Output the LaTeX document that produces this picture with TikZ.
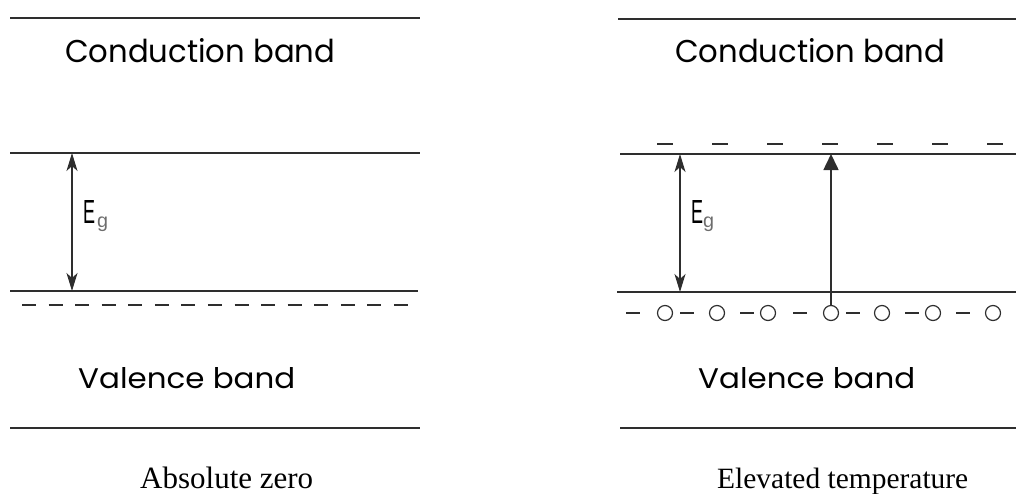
\documentclass[tikz,border=0pt]{standalone}
\usepackage{fontspec}
\usepackage{graphicx}
\setmainfont{Liberation Serif}
\newfontfamily\bandfont{Poppins}
\newfontfamily\egfont{Liberation Sans}
\usetikzlibrary{arrows.meta}
\definecolor{ink}{HTML}{2E2E2E}
\begin{document}
\begin{tikzpicture}[x=1pt,y=-1pt,
  level/.style={draw=ink,line width=1.6pt},
  dashlevel/.style={draw=ink,line width=1.6pt,dash pattern=on 14pt off 12.57pt},
  gap/.style={draw=ink,line width=1.6pt,{Stealth[length=18pt,width=11pt,inset=5pt]}-{Stealth[length=18pt,width=11pt,inset=5pt]}},
  jump/.style={draw=ink,line width=1.6pt,-{Triangle[length=16pt,width=15pt]}},
  hole/.style={circle,draw=ink,line width=1.2pt,minimum size=15pt,inner sep=0pt},
  band/.style={anchor=base west,inner sep=0pt,text=black},
  caption/.style={anchor=base west,inner sep=0pt,text=black},
  short/.style={draw=ink,line width=1.6pt}]
\useasboundingbox (0,0) rectangle (1016,493);

% ---------- left panel ----------
\draw[level] (10,18) -- (420,18);
\draw[level] (10,153) -- (420,153);
\draw[level] (10,291) -- (418,291);
\draw[dashlevel] (22,305) -- (408,305);
\draw[level] (10,428) -- (420,428);
\node[band] (cbL) at (65,62) {\resizebox{270pt}{24pt}{\bandfont Conduction band}};
\node[band] (vbL) at (78,388) {\resizebox{217pt}{21pt}{\bandfont Valence band}};
\coordinate (gtL) at (72,153);
\coordinate (gbL) at (72,291);
\draw[gap] (gbL) -- (gtL);
\node[anchor=base west,inner sep=0pt] (eL) at (83,223) {\resizebox{12pt}{23pt}{\egfont E}};
\node[anchor=north west,inner sep=0pt] (gL) at (97,217) {\resizebox{11pt}{!}{\egfont\color{ink!70}g}};
\node[caption] (azL) at (140,488) {\resizebox{173pt}{!}{Absolute zero}};

% ---------- right panel ----------
\draw[level] (618,19) -- (1016,19);
\draw[level] (620,154) -- (1016,154);
\draw[level] (617,292) -- (1016,292);
\draw[level] (620,428) -- (1016,428);
\node[band] (cbR) at (675,62) {\resizebox{270pt}{24pt}{\bandfont Conduction band}};
\node[band] (vbR) at (698,388) {\resizebox{217pt}{21pt}{\bandfont Valence band}};
% electrons (dashes) in conduction band
\foreach \x in {665,720,775,830,885,940,995}
  \draw[short] (\x-8,144) -- (\x+8,144);
% valence row: dashes and holes
\foreach \x in {633,687,747,800,853,912,963}
  \draw[short] (\x-7,313) -- (\x+7,313);
\foreach \x/\n in {665/h1,717/h2,768/h3,831/h4,882/h5,933/h6,993/h7}
  \node[hole] (\n) at (\x,313) {};
\coordinate (gtR) at (680,154);
\coordinate (gbR) at (680,292);
\draw[gap] (gbR) -- (gtR);
\coordinate (jt) at (831,154);
\draw[jump] (h4.north) -- (jt);
\node[anchor=base west,inner sep=0pt] (eR) at (691,223) {\resizebox{12pt}{23pt}{\egfont E}};
\node[anchor=north west,inner sep=0pt] (gR) at (703,217) {\resizebox{11pt}{!}{\egfont\color{ink!70}g}};
\node[caption] (etR) at (717,488) {\resizebox{251pt}{!}{Elevated temperature}};
\end{tikzpicture}
\end{document}
